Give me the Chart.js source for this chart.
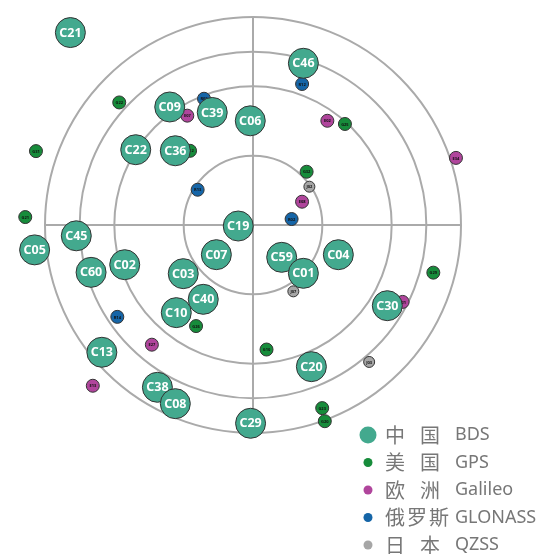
<!DOCTYPE html>
<html>
<head>
<meta charset="utf-8">
<script src="https://cdn.jsdelivr.net/npm/chart.js@4.4.1/dist/chart.umd.min.js"></script>
<style>
  html, body { margin: 0; padding: 0; background: #fff; }
</style>
</head>
<body>
<canvas id="skyplot" width="539" height="554"></canvas>
<script>
// azimuth (deg, north up, clockwise) and elevation (deg) per satellite
const bdsNames = ['C21','C46','C09','C39','C06','C22','C36','C19','C45','C05','C60','C02','C07','C03','C40','C10','C13','C38','C08','C29','C59','C01','C04','C30','C20'];
const bdsAz = [316.5, 17.3, 324.8, 340.1, 358.5, 302.7, 313.7, 266.1, 266.5, 263.5, 253.7, 252.8, 231.0, 235.1, 213.8, 221.2, 229.9, 210.5, 203.5, 180.7, 138.4, 133.8, 109.2, 121.0, 157.6];
const bdsEl = [-24.8, 16.7, 27.5, 38.2, 44.9, 29.7, 43.5, 83.6, 13.4, -5.1, 17.0, 31.9, 69.6, 53.2, 51.3, 39.6, 4.5, 8.5, 5.7, 4.2, 71.3, 59.8, 50.9, 22.2, 23.7];

const gpsNames = ['G22','G31','G21','G12','G25','G32','G29','G26','G10','G23','G20'];
const gpsAz = [312.5, 288.8, 272.0, 319.7, 42.3, 45.2, 104.8, 209.4, 173.8, 159.3, 159.9];
const gpsEl = [11.5, -9.2, -8.6, 47.9, 30.9, 57.3, 9.3, 39.8, 35.8, 5.3, -0.4];

const galNames = ['E07','E02','E34','E08','E27','E13','E21'];
const galAz = [329.0, 35.5, 71.7, 64.6, 220.2, 224.9, 117.2];
const galEl = [34.8, 34.6, -2.5, 66.5, 22.2, -8.2, 17.2];

const gloNames = ['R03','R12','R13','R02','R14'];
const gloAz = [338.8, 19.2, 302.5, 81.2, 235.9];
const gloEl = [31.4, 25.4, 61.6, 73.1, 19.1];

const qzsNames = ['J02','J07','J03'];
const qzsAz = [55.8, 148.7, 139.7];
const qzsEl = [60.5, 56.4, 12.3];

const ringElevations = [60, 30, 15, 0];

const legendCn = ['中国', '美国', '欧洲', '俄罗斯', '日本'];
const legendEn = ['BDS', 'GPS', 'Galileo', 'GLONASS', 'QZSS'];
const colors = ['#43a98e', '#178c3b', '#b0459c', '#1565a7', '#a6a6a6'];

function toXY(az, el) {
  return az.map((a, i) => {
    const z = 90 - el[i];
    const rad = a * Math.PI / 180;
    return { x: z * Math.sin(rad), y: z * Math.cos(rad) };
  });
}

const names = [bdsNames, gpsNames, galNames, gloNames, qzsNames];

function ds(az, el, color, radius) {
  return {
    data: toXY(az, el),
    backgroundColor: color,
    borderColor: '#333',
    borderWidth: 1,
    pointRadius: radius,
    pointHoverRadius: radius,
    clip: false
  };
}

const skyGrid = {
  id: 'skyGrid',
  beforeDatasetsDraw(chart) {
    const { ctx, scales: { x, y } } = chart;
    const cx = x.getPixelForValue(0), cy = y.getPixelForValue(0);
    ctx.save();
    ctx.strokeStyle = '#aaaaaa';
    ctx.lineWidth = 2;
    let outer = 0;
    ringElevations.forEach(el => {
      const r = x.getPixelForValue(90 - el) - cx;
      outer = Math.max(outer, r);
      ctx.beginPath();
      ctx.arc(cx, cy, r, 0, Math.PI * 2);
      ctx.stroke();
    });
    ctx.beginPath();
    ctx.moveTo(cx - outer, cy); ctx.lineTo(cx + outer, cy);
    ctx.moveTo(cx, cy - outer); ctx.lineTo(cx, cy + outer);
    ctx.stroke();
    ctx.restore();
  },
  afterDatasetDraw(chart, args) {
    const { ctx } = chart;
    const list = names[args.index];
    ctx.save();
    ctx.textAlign = 'center';
    ctx.textBaseline = 'middle';
    if (args.index === 0) {
      ctx.fillStyle = '#fff';
      ctx.font = 'bold 12.5px "Noto Sans"';
    } else {
      ctx.fillStyle = '#111';
      ctx.font = 'bold 4px "Noto Sans"';
    }
    args.meta.data.forEach((pt, j) => ctx.fillText(list[j], pt.x, pt.y + 0.5));
    ctx.restore();
  },
  afterDraw(chart) {
    const { ctx } = chart;
    ctx.save();
    ctx.textBaseline = 'middle';
    legendCn.forEach((cn, i) => {
      const yy = 435 + i * 27.5;
      ctx.beginPath();
      ctx.arc(368, yy, i === 0 ? 8.5 : 4.5, 0, Math.PI * 2);
      ctx.fillStyle = colors[i];
      ctx.fill();
      ctx.fillStyle = '#777';
      ctx.font = '20px "Noto Sans CJK SC"';
      const chars = [...cn];
      const xs = chars.length === 3 ? [385, 407, 429] : [385, 420];
      chars.forEach((c, k) => ctx.fillText(c, xs[k], yy));
      ctx.font = '18px "Noto Sans"';
      ctx.fillText(legendEn[i], 455, yy);
    });
    ctx.restore();
  }
};

new Chart(document.getElementById('skyplot'), {
  type: 'scatter',
  data: {
    datasets: [
      ds(bdsAz, bdsEl, colors[0], 15),
      ds(gpsAz, gpsEl, colors[1], 6.5),
      ds(galAz, galEl, colors[2], 6.5),
      ds(gloAz, gloEl, colors[3], 6.5),
      ds(qzsAz, qzsEl, colors[4], 5.5)
    ]
  },
  options: {
    responsive: false,
    animation: false,
    devicePixelRatio: 1,
    layout: { padding: 0, autoPadding: false },
    scales: {
      x: { type: 'linear', min: -109.47, max: 123.75, display: false },
      y: { type: 'linear', min: -142.36, max: 97.36, display: false }
    },
    plugins: {
      legend: { display: false },
      tooltip: { enabled: false }
    },
    events: []
  },
  plugins: [skyGrid]
});
</script>
</body>
</html>
